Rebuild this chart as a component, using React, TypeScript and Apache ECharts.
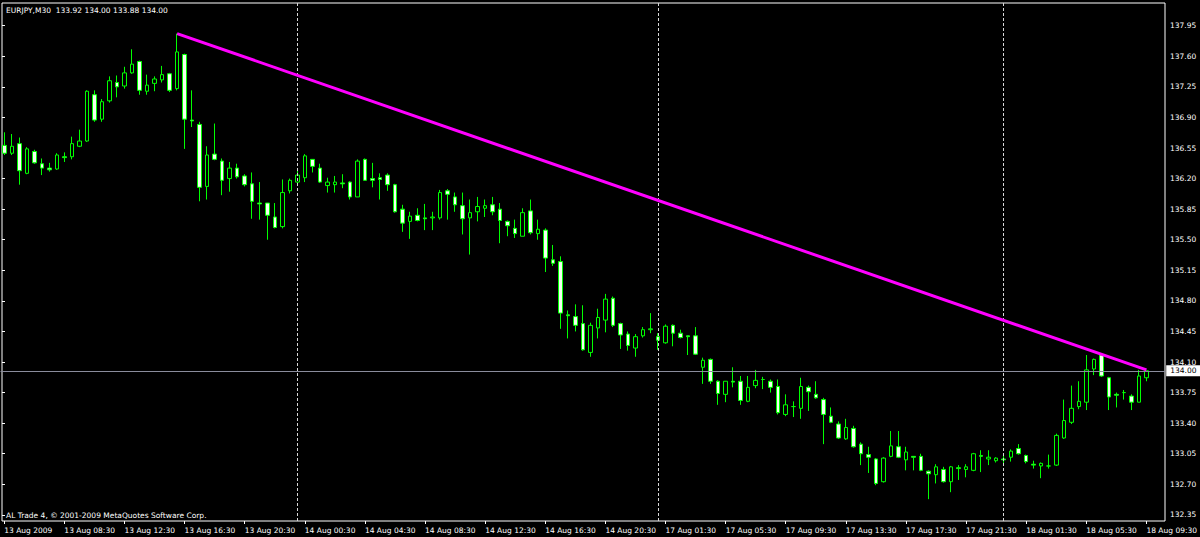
import React, { useEffect, useRef } from "react";
import * as echarts from "echarts";

// ---- data -----------------------------------------------------------------
const symbolHeader = "EURJPY,M30  133.92 134.00 133.88 134.00";
const copyrightText = "AL Trade 4, \u00a9 2001-2009 MetaQuotes Software Corp.";

// trading sessions: [day, first half-hour slot, number of slots]
const sessions: [string, number, number][] = [
  ["13 Aug", 9, 39],
  ["14 Aug", 0, 48],
  ["17 Aug", 2, 46],
  ["18 Aug", 0, 22], // last 2 slots are empty chart shift
];

const timeTickLabels = [
  "13 Aug 2009", "13 Aug 08:30", "13 Aug 12:30", "13 Aug 16:30", "13 Aug 20:30",
  "14 Aug 00:30", "14 Aug 04:30", "14 Aug 08:30", "14 Aug 12:30", "14 Aug 16:30",
  "14 Aug 20:30", "17 Aug 01:30", "17 Aug 05:30", "17 Aug 09:30", "17 Aug 13:30",
  "17 Aug 17:30", "17 Aug 21:30", "18 Aug 01:30", "18 Aug 05:30", "18 Aug 09:30",
];

const priceTicks = [
  132.35, 132.7, 133.05, 133.4, 133.75, 134.1, 134.45, 134.8, 135.15,
  135.5, 135.85, 136.2, 136.55, 136.9, 137.25, 137.6, 137.95,
];

const daySeparators = ["14 Aug 00:00", "17 Aug 01:00", "18 Aug 00:00"];
const bidPrice = 134.0;
const trendLine: [string, number][] = [
  ["13 Aug 16:00", 137.86],
  ["18 Aug 09:30", 134.01],
];

// [open, high, low, close]
const ohlc13Aug = [
  [136.58, 136.73, 136.47, 136.49], [136.49, 136.71, 136.47, 136.57],
  [136.6, 136.67, 136.13, 136.29], [136.26, 136.56, 136.25, 136.54],
  [136.51, 136.53, 136.37, 136.38], [136.37, 136.43, 136.24, 136.32],
  [136.32, 136.38, 136.28, 136.3], [136.31, 136.49, 136.3, 136.47],
  [136.45, 136.5, 136.39, 136.44], [136.45, 136.68, 136.42, 136.6],
  [136.57, 136.76, 136.56, 136.63], [136.63, 137.21, 136.62, 137.2],
  [137.16, 137.21, 136.85, 136.87], [136.88, 137.11, 136.85, 137.08],
  [137.09, 137.37, 137.07, 137.32], [137.3, 137.38, 137.13, 137.25],
  [137.26, 137.48, 137.23, 137.41], [137.41, 137.68, 137.4, 137.51],
  [137.54, 137.55, 137.16, 137.21], [137.2, 137.39, 137.16, 137.27],
  [137.29, 137.37, 137.2, 137.34], [137.33, 137.49, 137.3, 137.39],
  [137.4, 137.41, 137.19, 137.21], [137.23, 137.86, 137.21, 137.65],
  [137.62, 137.63, 136.54, 136.88], [136.87, 137.21, 136.79, 136.86],
  [136.82, 136.85, 135.94, 136.1], [136.11, 136.57, 135.96, 136.47],
  [136.48, 136.83, 136.41, 136.42], [136.4, 136.43, 136.01, 136.18],
  [136.2, 136.39, 136.05, 136.32], [136.32, 136.37, 136.2, 136.22],
  [136.23, 136.25, 136.11, 136.13], [136.14, 136.27, 135.74, 135.94],
  [135.92, 136.16, 135.73, 135.91], [135.92, 135.92, 135.5, 135.78],
  [135.76, 135.92, 135.63, 135.64], [135.65, 136.19, 135.63, 136.04],
  [136.06, 136.2, 136.03, 136.18],
];

const ohlc14Aug = [
  [136.16, 136.32, 136.14, 136.24], [136.21, 136.48, 136.16, 136.46],
  [136.42, 136.42, 136.27, 136.34], [136.32, 136.37, 136.15, 136.16],
  [136.12, 136.21, 136.04, 136.16], [136.13, 136.23, 136.04, 136.16],
  [136.15, 136.25, 136.09, 136.14], [136.16, 136.17, 135.96, 135.99],
  [135.99, 136.42, 135.99, 136.4], [136.42, 136.43, 136.18, 136.18],
  [136.2, 136.38, 136.1, 136.18], [136.21, 136.26, 135.96, 136.19],
  [136.24, 136.26, 136.06, 136.13], [136.13, 136.14, 135.81, 135.82],
  [135.85, 135.9, 135.59, 135.69], [135.71, 135.82, 135.51, 135.77],
  [135.78, 135.86, 135.71, 135.72], [135.75, 135.91, 135.61, 135.74],
  [135.75, 135.82, 135.61, 135.76], [135.75, 136.07, 135.73, 136.04],
  [136.06, 136.08, 135.73, 136.02], [135.99, 136.04, 135.82, 135.9],
  [135.89, 136.04, 135.56, 135.74], [135.75, 135.96, 135.33, 135.81],
  [135.82, 135.99, 135.71, 135.88], [135.86, 135.96, 135.76, 135.89],
  [135.9, 135.99, 135.78, 135.82], [135.85, 135.92, 135.46, 135.72],
  [135.71, 135.72, 135.54, 135.66], [135.63, 135.73, 135.52, 135.57],
  [135.54, 135.86, 135.54, 135.81], [135.83, 135.96, 135.56, 135.58],
  [135.57, 135.73, 135.5, 135.62], [135.61, 135.63, 135.13, 135.29],
  [135.27, 135.44, 135.2, 135.23], [135.25, 135.31, 134.48, 134.66],
  [134.64, 134.69, 134.37, 134.63], [134.62, 134.76, 134.45, 134.52],
  [134.54, 134.75, 134.23, 134.24], [134.21, 134.55, 134.16, 134.52],
  [134.49, 134.71, 134.37, 134.61], [134.58, 134.88, 134.44, 134.82],
  [134.83, 134.85, 134.5, 134.52], [134.54, 134.55, 134.25, 134.41],
  [134.42, 134.45, 134.23, 134.29], [134.26, 134.42, 134.16, 134.39],
  [134.4, 134.5, 134.38, 134.47], [134.47, 134.66, 134.43, 134.48],
];

const ohlc17Aug = [
  [134.39, 134.43, 134.24, 134.35], [134.32, 134.53, 134.31, 134.51],
  [134.52, 134.53, 134.28, 134.43], [134.43, 134.47, 134.37, 134.38],
  [134.4, 134.4, 134.18, 134.39], [134.4, 134.5, 134.18, 134.19],
  [134.04, 134.15, 133.85, 134.12], [134.13, 134.14, 133.85, 133.88],
  [133.88, 133.89, 133.61, 133.74], [133.73, 133.88, 133.64, 133.88],
  [133.88, 134.04, 133.81, 133.87], [133.88, 133.94, 133.61, 133.66],
  [133.65, 133.94, 133.64, 133.81], [133.83, 134.01, 133.8, 133.89],
  [133.9, 133.93, 133.79, 133.9], [133.88, 133.9, 133.75, 133.81],
  [133.82, 133.9, 133.5, 133.52], [133.5, 133.73, 133.48, 133.61],
  [133.59, 133.65, 133.47, 133.59], [133.57, 133.92, 133.45, 133.82],
  [133.81, 133.83, 133.54, 133.76], [133.73, 133.88, 133.68, 133.69],
  [133.67, 133.69, 133.16, 133.5], [133.48, 133.58, 133.4, 133.41],
  [133.39, 133.42, 133.22, 133.23], [133.22, 133.45, 133.21, 133.35],
  [133.34, 133.37, 133.12, 133.13], [133.16, 133.18, 132.92, 133.05],
  [133.04, 133.13, 132.83, 133.01], [132.99, 133.0, 132.69, 132.71],
  [132.73, 133.01, 132.72, 133.0], [133.02, 133.31, 133.01, 133.14],
  [133.13, 133.31, 133.0, 133.01], [132.98, 133.13, 132.86, 133.07],
  [133.02, 133.02, 132.86, 133.01], [133.02, 133.05, 132.85, 132.86],
  [132.85, 132.86, 132.53, 132.82], [132.81, 132.93, 132.71, 132.9],
  [132.87, 132.9, 132.72, 132.73], [132.73, 132.91, 132.61, 132.9],
  [132.89, 132.92, 132.75, 132.88], [132.87, 132.93, 132.78, 132.9],
  [132.86, 133.06, 132.85, 133.05], [133.03, 133.09, 132.84, 133.02],
  [132.99, 133.09, 132.92, 133.01], [132.97, 133.01, 132.95, 133.0],
];

const ohlc18Aug = [
  [132.99, 133.05, 132.94, 132.98], [133.01, 133.1, 132.96, 133.08],
  [133.11, 133.16, 133.04, 133.05], [133.03, 133.04, 132.94, 132.96],
  [132.93, 132.97, 132.88, 132.92], [132.91, 132.95, 132.77, 132.94],
  [132.91, 133.04, 132.88, 132.91], [132.92, 133.28, 132.91, 133.26],
  [133.23, 133.67, 133.22, 133.43], [133.41, 133.83, 133.39, 133.57],
  [133.59, 133.88, 133.56, 133.65], [133.64, 134.18, 133.55, 134.01],
  [134.02, 134.14, 133.95, 134.13], [134.18, 134.2, 133.93, 133.94],
  [133.92, 133.93, 133.55, 133.7], [133.73, 133.75, 133.58, 133.72],
  [133.75, 133.78, 133.67, 133.75], [133.71, 133.73, 133.55, 133.64],
  [133.64, 134.01, 133.64, 133.94], [133.92, 134.0, 133.88, 134.0],
];

// ---- helpers --------------------------------------------------------------
function buildCategories(): string[] {
  const out: string[] = [];
  for (const [day, start, count] of sessions) {
    for (let k = 0; k < count; k++) {
      const slot = start + k;
      const h = Math.floor(slot / 2);
      out.push(`${day} ${String(h).padStart(2, "0")}:${slot % 2 ? "30" : "00"}`);
    }
  }
  return out;
}

const FONT = "DejaVu Sans";
const FS = 7.5;

export default function App() {
  const ref = useRef<HTMLDivElement>(null);

  useEffect(() => {
    document.body.style.margin = "0";
    document.body.style.background = "#000";
    if (!ref.current) return;
    const chart = echarts.init(ref.current, undefined, { renderer: "svg" });

    const categories = buildCategories();
    const bars = [...ohlc13Aug, ...ohlc14Aug, ...ohlc17Aug, ...ohlc18Aug];
    const candleData = bars.map(([o, h, l, c]) => [o, c, l, h]);
    const showTick = (idx: number) => idx % 8 === 0 && idx / 8 < timeTickLabels.length;

    const option: any = {
      animation: false,
      backgroundColor: "#000000",
      title: [
        {
          text: symbolHeader, left: 6, top: 6, padding: 0,
          textStyle: { color: "#ffffff", fontSize: FS, fontWeight: "normal", fontFamily: FONT },
        },
        {
          text: copyrightText, left: 6, top: 511, padding: 0,
          textStyle: { color: "#ffffff", fontSize: FS, fontWeight: "normal", fontFamily: FONT },
        },
      ],
      grid: [
        { left: 0.5, right: 33.5, top: 3, bottom: 16, show: false },
        {
          left: 2, right: 35, top: 3, bottom: 16, show: true,
          borderColor: "#ffffff", borderWidth: 1, backgroundColor: "transparent",
        },
      ],
      xAxis: [
        {
          type: "category", gridIndex: 0, data: categories, boundaryGap: true,
          axisLine: { show: false },
          axisTick: {
            show: true, alignWithLabel: true, interval: showTick, length: 3,
            lineStyle: { color: "#ffffff" },
          },
          axisLabel: {
            interval: showTick,
            formatter: (_v: string, i: number) => timeTickLabels[i / 8] ?? "",
            align: "left", color: "#ffffff", fontSize: FS, fontFamily: FONT, margin: 5,
          },
          splitLine: { show: false },
        },
        { type: "value", gridIndex: 1, show: false, min: 0, max: 1 },
      ],
      yAxis: [
        { type: "value", gridIndex: 0, min: 132.28, max: 138.21, show: false, splitLine: { show: false } },
        {
          type: "value", gridIndex: 1, min: 132.28, max: 138.21, position: "right",
          axisLine: { show: false },
          splitLine: { show: false },
          axisTick: { show: true, customValues: priceTicks, length: 3, lineStyle: { color: "#ffffff" } },
          axisLabel: {
            customValues: priceTicks,
            formatter: (v: number) => v.toFixed(2),
            color: "#ffffff", fontSize: FS, fontFamily: FONT, margin: 5,
          },
        },
      ],
      series: [
        {
          type: "candlestick",
          xAxisIndex: 0, yAxisIndex: 0,
          data: candleData,
          barWidth: 4,
          silent: true,
          itemStyle: {
            color: "#000000", color0: "#f4fff0",
            borderColor: "#00ff00", borderColor0: "#00ff00", borderWidth: 1,
          },
          markLine: {
            silent: true,
            symbol: ["none", "none"],
            animation: false,
            data: [
              ...daySeparators.map((d) => ({
                xAxis: d,
                lineStyle: { color: "#d8d8d8", type: [3, 2], width: 1 },
                label: { show: false },
              })),
              {
                yAxis: bidPrice,
                lineStyle: { color: "#8a8c9c", type: "solid", width: 1 },
                label: {
                  show: true, position: "end", formatter: bidPrice.toFixed(2),
                  color: "#000000", backgroundColor: "#ffffff", padding: [2, 4, 1, 4],
                  fontSize: FS, fontFamily: FONT, distance: 1,
                },
              },
            ],
          },
        },
        {
          type: "line",
          xAxisIndex: 0, yAxisIndex: 0,
          data: trendLine,
          symbol: "none",
          silent: true,
          z: 5,
          lineStyle: { color: "#ff00ff", width: 3 },
        },
      ],
    };

    chart.setOption(option);
    return () => chart.dispose();
  }, []);

  return <div ref={ref} style={{ width: 1200, height: 537, background: "#000" }} />;
}
